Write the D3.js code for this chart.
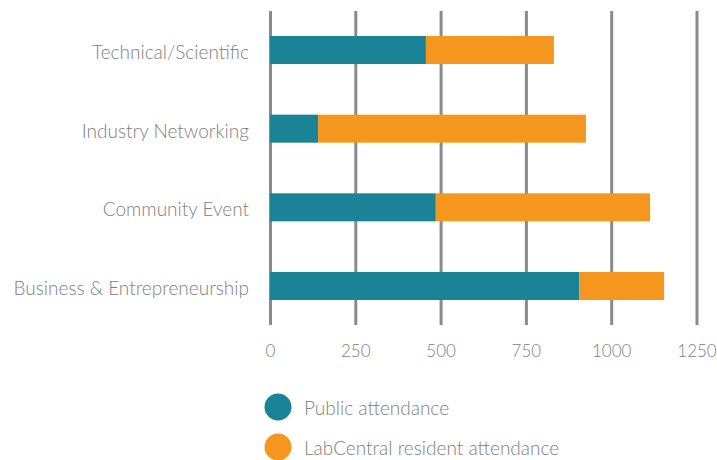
<!DOCTYPE html>
<html><head><meta charset="utf-8">
<script src="https://cdn.jsdelivr.net/npm/d3@7"></script>
<style>
html,body{margin:0;padding:0;background:#fff;}
svg text{font-family:Lato,"Open Sans",sans-serif;fill:#808080;font-weight:300;}
</style></head>
<body>
<svg id="chart" width="717" height="460"></svg>
<script>
const categories = ["Technical/Scientific","Industry Networking","Community Event","Business & Entrepreneurship"];
const publicAttendance = [457, 141, 486, 906];
const residentAttendance = [375, 785, 628, 249];
const tickValues = [0, 250, 500, 750, 1000, 1250];
const seriesNames = ["Public attendance","LabCentral resident attendance"];
const colors = ["#1a8496","#f5961f"];

const svg = d3.select("#chart");
const x = d3.scaleLinear().domain([0,1250]).range([270,696.5]);
const y = d3.scalePoint().domain(categories).range([50,286]);
const barH = 28;
const gridTop = 11, gridBottom = 325;

const axis = d3.axisBottom(x).tickValues(tickValues).tickSize(-(gridBottom-gridTop)).tickPadding(20).tickFormat(d3.format("d"));
const gAxis = svg.append("g").attr("transform",`translate(0,${gridBottom})`).call(axis);
gAxis.select(".domain").remove();
gAxis.selectAll(".tick line").attr("stroke","#8a8a8e").attr("stroke-width",3);
gAxis.selectAll(".tick text").attr("font-size",17).style("fill","#808080");

const data = categories.map((c,i)=>({cat:c, pub:publicAttendance[i], res:residentAttendance[i]}));

svg.append("g").selectAll("rect.pub").data(data).join("rect")
  .attr("x",x(0)).attr("y",d=>y(d.cat)-barH/2)
  .attr("width",d=>x(d.pub)-x(0)).attr("height",barH).attr("fill",colors[0]);
svg.append("g").selectAll("rect.res").data(data).join("rect")
  .attr("x",d=>x(d.pub)).attr("y",d=>y(d.cat)-barH/2)
  .attr("width",d=>x(d.pub+d.res)-x(d.pub)).attr("height",barH).attr("fill",colors[1]);

svg.append("g").selectAll("text").data(categories).join("text")
  .attr("x",249).attr("y",d=>y(d)+9)
  .attr("text-anchor","end").attr("font-size",19).text(d=>d);

const leg = svg.append("g").selectAll("g").data(seriesNames).join("g")
  .attr("transform",(d,i)=>`translate(278,${407+i*40})`);
leg.append("circle").attr("r",13.5).attr("fill",(d,i)=>colors[i]);
leg.append("text").attr("x",26).attr("y",8).attr("font-size",19).text(d=>d);
</script>
</body></html>
